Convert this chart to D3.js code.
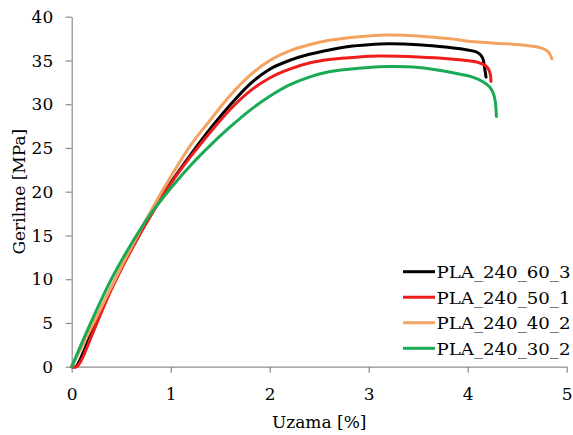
<!DOCTYPE html>
<html><head><meta charset="utf-8">
<script src="https://cdn.jsdelivr.net/npm/d3@7"></script>
<style>body{margin:0;background:#fff}svg{display:block}</style>
</head><body><div id="chart"></div>
<script>
const seriesNames = ["PLA_240_60_3", "PLA_240_50_1", "PLA_240_40_2", "PLA_240_30_2"];
const seriesColors = ["#000000", "#ee1c1c", "#f3a260", "#1aaa55"];

const strain60_3 = [0, 0.04, 0.1, 0.2, 0.4, 0.6, 0.8, 1.0, 1.2, 1.4, 1.6, 1.8, 2.0, 2.2, 2.4, 2.6, 2.8, 3.0, 3.2, 3.5, 3.8, 4.0, 4.1, 4.15, 4.17, 4.185];
const stress60_3 = [0, 0, 1.2, 3.9, 9.0, 13.4, 17.4, 21.0, 24.2, 27.2, 29.9, 32.3, 34.0, 35.0, 35.7, 36.2, 36.6, 36.8, 36.9, 36.8, 36.5, 36.2, 35.9, 35.3, 34.2, 33.1];

const strain50_1 = [0, 0.05, 0.1, 0.2, 0.4, 0.6, 0.8, 1.0, 1.2, 1.4, 1.6, 1.8, 2.0, 2.2, 2.4, 2.6, 2.9, 3.1, 3.5, 3.8, 4.1, 4.18, 4.215, 4.23, 4.235];
const stress50_1 = [0, 0, 0.8, 3.5, 8.8, 13.3, 17.3, 20.9, 24.0, 26.8, 29.4, 31.5, 33.0, 34.0, 34.7, 35.1, 35.4, 35.5, 35.4, 35.2, 34.8, 34.4, 33.9, 33.3, 32.6];

const strain40_2 = [0, 0.2, 0.4, 0.6, 0.8, 1.0, 1.2, 1.4, 1.6, 1.8, 2.0, 2.2, 2.4, 2.6, 2.8, 3.0, 3.2, 3.5, 3.8, 4.1, 4.4, 4.6, 4.75, 4.82, 4.85];
const stress40_2 = [0, 4.5, 9.1, 13.6, 17.8, 21.7, 25.3, 28.2, 31.0, 33.3, 35.0, 36.1, 36.8, 37.3, 37.6, 37.8, 37.9, 37.8, 37.5, 37.1, 36.9, 36.7, 36.4, 35.9, 35.2];

const strain30_2 = [0, 0.2, 0.4, 0.6, 0.8, 1.0, 1.2, 1.4, 1.6, 1.8, 2.0, 2.2, 2.4, 2.6, 2.8, 3.0, 3.2, 3.5, 3.8, 4.05, 4.15, 4.22, 4.26, 4.28, 4.29];
const stress30_2 = [0, 5.2, 10.0, 14.0, 17.5, 20.4, 23.0, 25.3, 27.4, 29.3, 30.9, 32.2, 33.1, 33.7, 34.0, 34.2, 34.3, 34.2, 33.7, 33.1, 32.6, 32.0, 31.2, 30.2, 28.6];

const xTicks = [0, 1, 2, 3, 4, 5];
const yTicks = [0, 5, 10, 15, 20, 25, 30, 35, 40];
const xTitle = "Uzama [%]";
const yTitle = "Gerilme [MPa]";

const strains = [strain60_3, strain50_1, strain40_2, strain30_2];
const stresses = [stress60_3, stress50_1, stress40_2, stress30_2];
const series = seriesNames.map((n, i) => ({name: n, color: seriesColors[i],
  pts: strains[i].map((s, j) => [s, stresses[i][j]])}));

const W = 573, H = 435;
const svg = d3.select("#chart").append("svg").attr("width", W).attr("height", H);
const x = d3.scaleLinear().domain([0, 5]).range([71.7, 566.7]);
const y = d3.scaleLinear().domain([0, 40]).range([366.7, 16.7]);
const axisColor = "#8c8c8c";
const FONT = "DejaVu Serif";

const xa = svg.append("g").attr("transform", `translate(0,${y(0)})`)
  .call(d3.axisBottom(x).tickValues(xTicks).tickFormat(d3.format("d")).tickSize(6).tickSizeOuter(0));
xa.attr("font-family", FONT);
xa.selectAll("text").attr("y", 33.5).attr("dy", 0).attr("font-size", 17);
const ya = svg.append("g").attr("transform", `translate(${x(0)},0)`)
  .call(d3.axisLeft(y).tickValues(yTicks).tickFormat(d3.format("d")).tickSize(6).tickSizeOuter(0));
ya.attr("font-family", FONT);
ya.selectAll("text").attr("x", -18.5).attr("dy", "0.34em").attr("font-size", 17);
svg.selectAll(".domain, .tick line").attr("stroke", axisColor).attr("stroke-width", 1.2);

const line = d3.line().x(d => x(d[0])).y(d => y(d[1])).curve(d3.curveCatmullRom.alpha(0.5));
svg.append("g").selectAll("path").data(series).join("path")
  .attr("d", d => line(d.pts)).attr("fill", "none").attr("stroke", d => d.color)
  .attr("stroke-width", 3).attr("stroke-linejoin", "round").attr("stroke-linecap", "round");

svg.append("text").attr("x", (x(0) + x(5)) / 2).attr("y", 428).attr("text-anchor", "middle")
  .attr("font-family", FONT).attr("font-size", 17).text(xTitle);
svg.append("text").attr("transform", `translate(25,${(y(0) + y(40)) / 2}) rotate(-90)`)
  .attr("text-anchor", "middle").attr("font-family", FONT).attr("font-size", 17).text(yTitle);

const lg = svg.append("g");
const rowY = d3.scaleLinear().domain([0, 3]).range([271.7, 348.3]);
series.forEach((s, i) => {
  const yy = rowY(i);
  lg.append("line").attr("x1", 403).attr("x2", 435).attr("y1", yy).attr("y2", yy)
    .attr("stroke", s.color).attr("stroke-width", 3);
  lg.append("text").attr("x", 436.5).attr("y", yy + 6.5).attr("font-family", FONT)
    .attr("font-size", 17).attr("textLength", 134).attr("lengthAdjust", "spacingAndGlyphs").text(s.name);
});
</script></body></html>
